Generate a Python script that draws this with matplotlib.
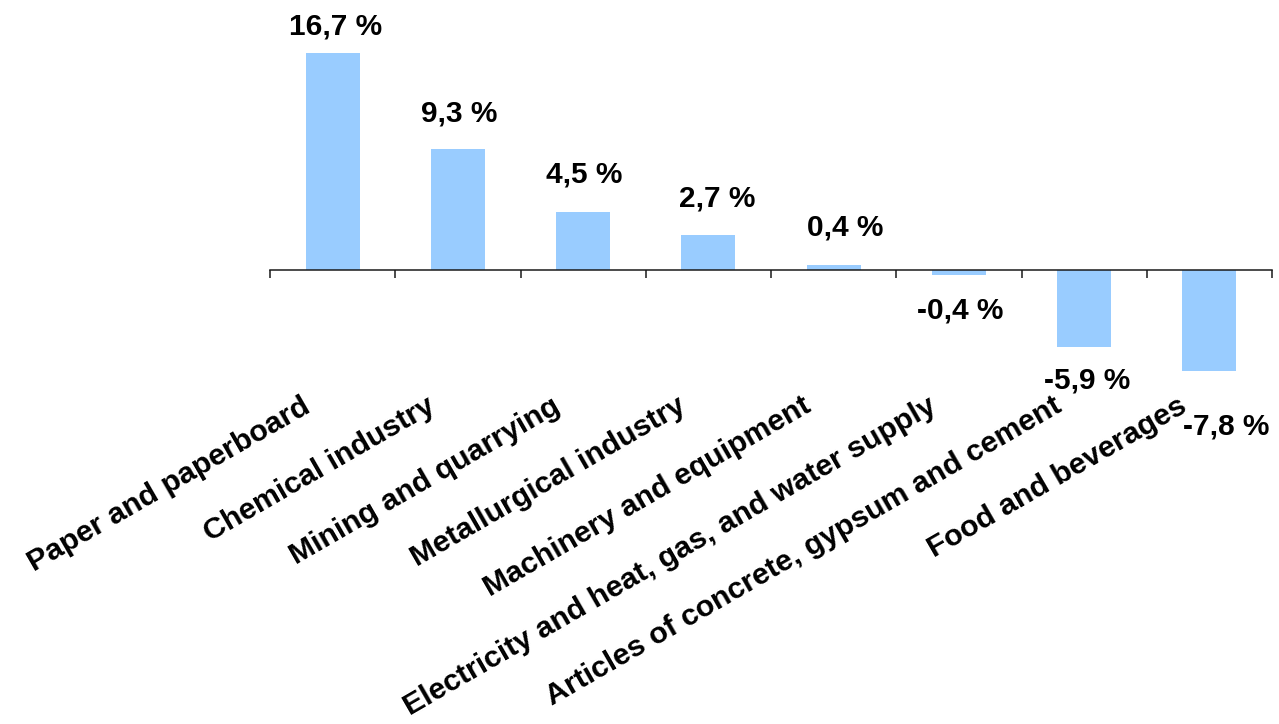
import matplotlib.pyplot as plt
import numpy as np

# Datos
categorias = ['Paper and paperboard', 'Chemical industry', 'Mining and quarrying',
              'Metallurgical industry', 'Machinery and equipment',
              'Electricity and heat, gas, and water supply',
              'Articles of concrete, gypsum and cement', 'Food and beverages']
valores = [16.7, 9.3, 4.5, 2.7, 0.4, -0.4, -5.9, -7.8]
etiquetas = ['16,7 %', '9,3 %', '4,5 %', '2,7 %', '0,4 %', '-0,4 %', '-5,9 %', '-7,8 %']

# Desplazamientos de las etiquetas de valor (pixeles)
desp_x = [3, 1, 1, 9, 12, 1, 3, 17]
desp_y = [26, 36, 37, 36, 37, -35, -34, -55]

plt.rcParams['font.family'] = ['Liberation Sans', 'DejaVu Sans']
plt.rcParams['font.weight'] = 'bold'

fig = plt.figure(figsize=(12.79, 7.24), dpi=100)
ax = fig.add_axes([270 / 1279, 1 - 413 / 724, 1002 / 1279, 390 / 724])

x = np.arange(len(valores))
ax.bar(x, valores, width=0.43, color='#99CCFF', zorder=2)

ax.set_xlim(-0.5, len(valores) - 0.5)
ax.set_ylim(-11, 19)

# Ejes
for lado in ['top', 'right', 'left']:
    ax.spines[lado].set_visible(False)
ax.spines['bottom'].set_position(('data', 0))
ax.spines['bottom'].set_linewidth(1.1)
ax.spines['bottom'].set_color('#1a1a1a')
ax.spines['bottom'].set_zorder(3)
ax.set_yticks([])
ax.set_xticks(np.arange(-0.5, len(valores), 1.0))
ax.set_xticklabels([])
ax.tick_params(axis='x', direction='out', length=6, width=1.1, color='#1a1a1a')

# Etiquetas de valor
for i, v in enumerate(valores):
    ax.annotate(etiquetas[i], xy=(i, v), xytext=(desp_x[i], desp_y[i]),
                textcoords='offset pixels', ha='center', va='center',
                fontsize=21.5, fontweight='bold', color='black')

# Etiquetas de categorias
for i, c in enumerate(categorias):
    ax.annotate(c, xy=(i, 0), xytext=(-21, -141), textcoords='offset pixels',
                ha='right', va='baseline', rotation=30, rotation_mode='anchor',
                fontsize=21.8, fontweight='bold', color='black', annotation_clip=False)

fig.savefig('out.png', dpi=100)
